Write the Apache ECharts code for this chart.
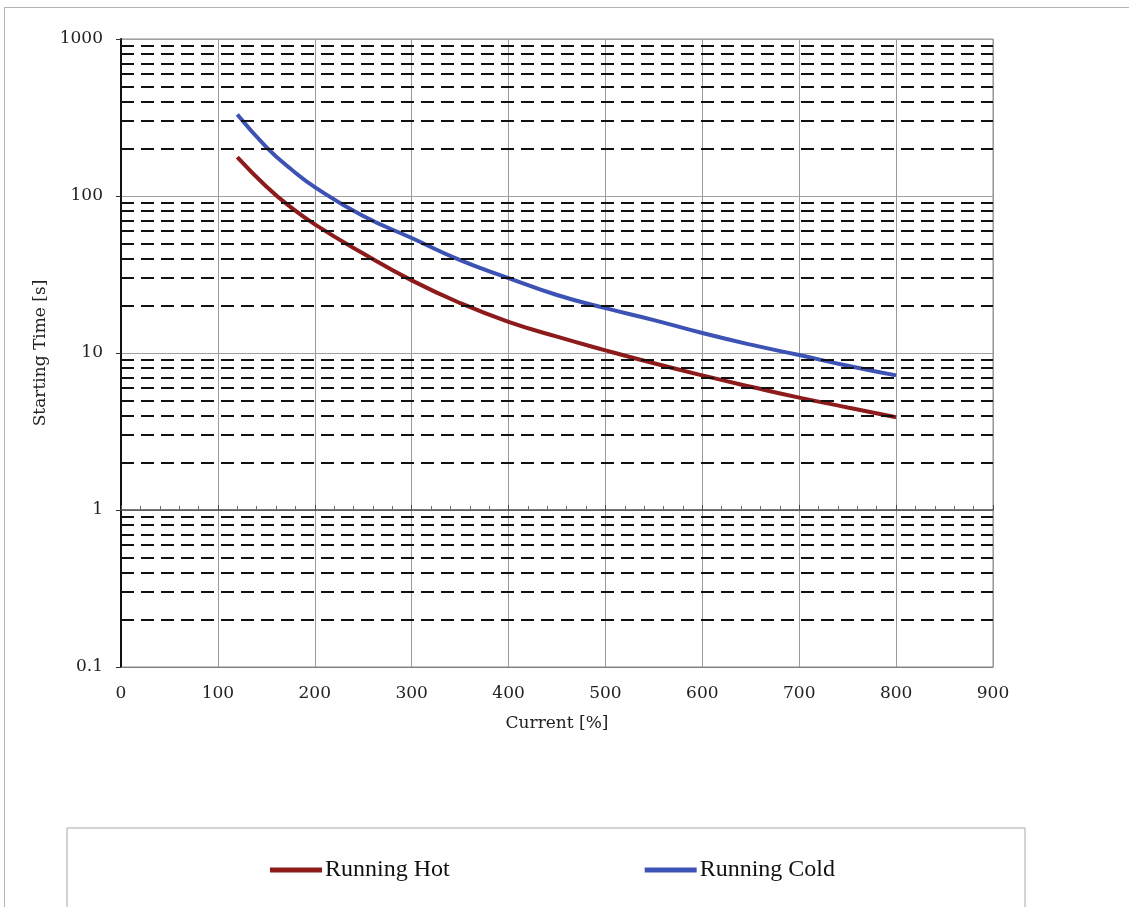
<!DOCTYPE html>
<html>
<head>
<meta charset="utf-8">
<title>Starting Time vs Current</title>
<script src="https://cdn.jsdelivr.net/npm/echarts@6/dist/echarts.min.js"></script>
<style>
  html, body {
    margin: 0;
    padding: 0;
    background: #fff;
  }
  #chart {
    width: 1129px;
    height: 907px;
  }
  .frame {
    position: absolute;
    left: 4px;
    top: 7px;
    width: 1140px;
    height: 920px;
    border-left: 1px solid #b4b4b4;
    border-top: 1px solid #b4b4b4;
    pointer-events: none;
  }
</style>
</head>
<body>
<div id="chart"></div>
<div class="frame"></div>
<script>
// current in % of rated
const currentPct = [120, 150, 175, 200, 250, 300, 350, 400, 450, 500, 550, 600, 650, 700, 750, 800]
// starting time in seconds
const runningHot = [177, 115, 85, 66, 43, 29, 20.8, 15.8, 12.7, 10.4, 8.6, 7.2, 6.1, 5.2, 4.5, 3.9]
const runningCold = [330, 205, 149, 114, 74.5, 54, 39, 30, 23.4, 19.3, 16.2, 13.4, 11.3, 9.7, 8.3, 7.2]
// dashed minor grid lines of the log axis
const minorGridValues = [
  0.2, 0.3, 0.4, 0.5, 0.6, 0.7, 0.8, 0.9,
  2, 3, 4, 5, 6, 7, 8, 9,
  20, 30, 40, 50, 60, 70, 80, 90,
  200, 300, 400, 500, 600, 700, 800, 900
]

const tickFont = 'DejaVu Serif'
const gridTop = 39
const gridBottom = 240
const plotHeight = 907 - gridTop - gridBottom

function toPairs(xs, ys) {
  return xs.map((x, i) => [x, ys[i]])
}

const chart = echarts.init(document.getElementById('chart'))

chart.setOption({
  animation: false,
  backgroundColor: '#fff',
  grid: {
    left: 121,
    right: 136,
    top: gridTop,
    bottom: gridBottom,
    show: true,
    borderColor: '#8a8a8a',
    borderWidth: 1
  },
  legend: {
    left: 67,
    top: 828,
    padding: [30, 190, 80, 203],
    borderColor: '#a8a8a8',
    borderWidth: 1,
    itemGap: 195,
    itemWidth: 52,
    itemHeight: 5,
    icon: 'rect',
    textStyle: {
      fontFamily: 'Liberation Serif',
      fontSize: 24,
      color: '#111',
      padding: [0, 0, 0, -2]
    },
    data: ['Running Hot', 'Running Cold']
  },
  xAxis: [
    {
      type: 'value',
      min: 0,
      max: 900,
      interval: 100,
      name: 'Current [%]',
      nameLocation: 'middle',
      nameGap: 48,
      nameTextStyle: {
        fontFamily: tickFont,
        fontSize: 17,
        color: '#222'
      },
      axisLine: { show: true, lineStyle: { color: '#808080', width: 1 } },
      axisTick: { show: false },
      axisLabel: {
        margin: 18,
        fontFamily: tickFont,
        fontSize: 17,
        color: '#222'
      },
      splitLine: { show: true, lineStyle: { color: '#9a9a9a', width: 1 } }
    },
    {
      // horizontal axis crossing at 1 s, as in the original sheet
      type: 'value',
      min: 0,
      max: 900,
      interval: 100,
      position: 'bottom',
      offset: -plotHeight / 4,
      axisLine: { show: true, onZero: false, lineStyle: { color: '#4a4a4a', width: 1.5 } },
      axisTick: { show: true, inside: true, length: 5, lineStyle: { color: '#4a4a4a' } },
      minorTick: { show: true, splitNumber: 5, length: 4, lineStyle: { color: '#6a6a6a' } },
      axisLabel: { show: false },
      splitLine: { show: false }
    }
  ],
  yAxis: {
    type: 'log',
    logBase: 10,
    min: 0.1,
    max: 1000,
    splitNumber: 4,
    name: 'Starting Time [s]',
    nameLocation: 'middle',
    nameGap: 69,
    nameTextStyle: {
      fontFamily: tickFont,
      fontSize: 17,
      color: '#222'
    },
    axisLine: { show: true, lineStyle: { color: '#111', width: 2 } },
    axisTick: { show: true, length: 5, lineStyle: { color: '#333' } },
    axisLabel: {
      margin: 18,
      fontFamily: tickFont,
      fontSize: 17,
      color: '#222',
      formatter: (v) => String(v)
    },
    splitLine: { show: true, lineStyle: { color: '#a0a0a0', width: 1 } }
  },
  series: [
    {
      name: 'minor grid',
      type: 'line',
      data: [],
      z: 1,
      silent: true,
      markLine: {
        silent: true,
        symbol: 'none',
        label: { show: false },
        lineStyle: { color: '#111', width: 2.2, type: [13, 7] },
        data: minorGridValues.map((v) => ({ yAxis: v }))
      }
    },
    {
      name: 'Running Hot',
      type: 'line',
      z: 3,
      smooth: 0.5,
      showSymbol: false,
      data: toPairs(currentPct, runningHot),
      lineStyle: { color: '#8E1B1B', width: 4 },
      itemStyle: { color: '#8E1B1B' }
    },
    {
      name: 'Running Cold',
      type: 'line',
      z: 3,
      smooth: 0.5,
      showSymbol: false,
      data: toPairs(currentPct, runningCold),
      lineStyle: { color: '#3C52B4', width: 4 },
      itemStyle: { color: '#3C52B4' }
    }
  ]
})
</script>
</body>
</html>
